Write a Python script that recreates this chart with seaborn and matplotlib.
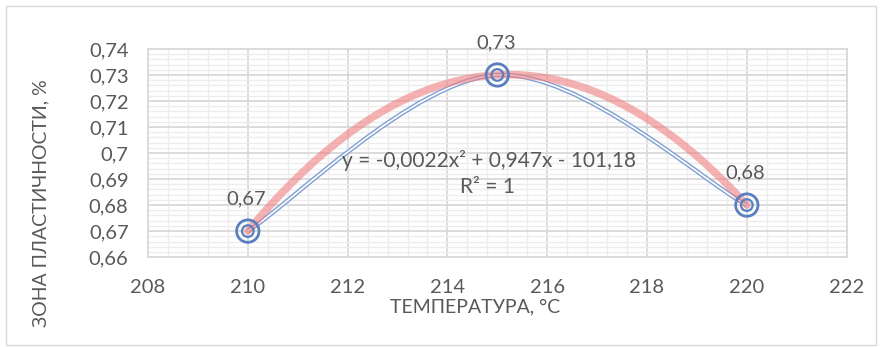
import numpy as np
import pandas as pd
import matplotlib.pyplot as plt
import seaborn as sns
from matplotlib.path import Path
from matplotlib.patches import PathPatch, Rectangle
from matplotlib.ticker import MultipleLocator, FuncFormatter

# data
temps = [210, 215, 220]
zone = [0.67, 0.73, 0.68]
point_labels = ['0,67', '0,73', '0,68']
x_ticks = [208, 210, 212, 214, 216, 218, 220, 222]
y_ticks = [0.66, 0.67, 0.68, 0.69, 0.70, 0.71, 0.72, 0.73, 0.74]
equation = 'y = -0,0022x² + 0,947x - 101,18'
r2_text = 'R² = 1'

df = pd.DataFrame({'t': temps, 'z': zone})

sns.set_theme(style='white')
plt.rcParams['font.family'] = ['Lato', 'DejaVu Sans']

txt = '#595959'
blue = '#5a7fbf'
fig = plt.figure(figsize=(8.81, 3.47), dpi=100)
ax = fig.add_axes([0.168, 0.259, 0.793, 0.600])

# chart border
fig.patches.append(Rectangle((0.007, 0.006), 0.987, 0.976, transform=fig.transFigure,
                             fill=False, edgecolor='#d9d9d9', lw=1))

# smoothed series line (excel-like bezier)
pts = np.array(df[['t', 'z']], dtype=float)
verts = [pts[0]]
codes = [Path.MOVETO]
for i in range(len(pts) - 1):
    p_prev = pts[max(i - 1, 0)]
    p_next = pts[min(i + 2, len(pts) - 1)]
    c1 = pts[i] + (pts[i + 1] - p_prev) / 6
    c2 = pts[i + 1] - (p_next - pts[i]) / 6
    verts += [c1, c2, pts[i + 1]]
    codes += [Path.CURVE4] * 3
path = Path(verts, codes)
ax.add_patch(PathPatch(path, fill=False, edgecolor='#7f9fd3', lw=3.2, zorder=3))
ax.add_patch(PathPatch(path, fill=False, edgecolor='white', lw=1.2, zorder=3))

# polynomial trendline
coef = np.polyfit(temps, zone, 2)
xs = np.linspace(temps[0], temps[-1], 200)
trend = pd.DataFrame({'t': xs, 'z': np.polyval(coef, xs)})
sns.lineplot(data=trend, x='t', y='z', ax=ax, color='#f08080', lw=5.5, alpha=0.6, zorder=4)

# double circle markers
sns.scatterplot(data=df, x='t', y='z', ax=ax, s=260, facecolor='none', edgecolor=blue,
                linewidth=2, zorder=5)
sns.scatterplot(data=df, x='t', y='z', ax=ax, s=70, facecolor='none', edgecolor=blue,
                linewidth=1.6, zorder=5)

for x, y, lab in zip(temps, zone, point_labels):
    ax.annotate(lab, (x, y), xytext=(-1, 23), textcoords='offset points', ha='center',
                va='center', fontsize=14.5, color=txt)

ax.text(214.83, 0.6971, equation, ha='center', va='center', fontsize=15, color=txt, zorder=6)
ax.text(214.8, 0.6870, r2_text, ha='center', va='center', fontsize=15, color=txt, zorder=6)

ax.set_xlim(208, 222)
ax.set_ylim(0.66, 0.74)
ax.set_xticks(x_ticks)
ax.set_yticks(y_ticks)
ax.xaxis.set_minor_locator(MultipleLocator(0.4))
ax.yaxis.set_minor_locator(MultipleLocator(0.002))
ax.yaxis.set_major_formatter(FuncFormatter(lambda v, p: ('%g' % round(v, 2)).replace('.', ',')))
ax.grid(True, which='major', color='#d9d9d9', lw=1.3)
ax.grid(True, which='minor', color='#ededed', lw=1)
ax.set_axisbelow(True)
for s in ax.spines.values():
    s.set_color('#d9d9d9')
    s.set_linewidth(1.3)
ax.tick_params(axis='both', which='both', length=0, labelsize=14.5, labelcolor=txt)
ax.tick_params(axis='x', pad=16)
ax.tick_params(axis='y', pad=14)

ax.set_xlabel('ТЕМПЕРАТУРА, °С', fontsize=14, color=txt)
ax.xaxis.set_label_coords(0.468, -0.237)
ax.xaxis.label.set_va('center')
ax.set_ylabel('ЗОНА ПЛАСТИЧНОСТИ, %', fontsize=14, color=txt)
ax.yaxis.set_label_coords(-0.153, 0.26)
ax.yaxis.label.set_va('center')

fig.savefig('out.png', dpi=100)
